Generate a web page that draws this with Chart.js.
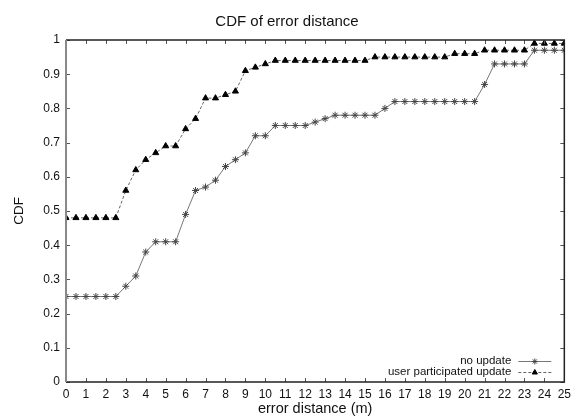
<!DOCTYPE html>
<html>
<head>
<meta charset="utf-8">
<script src="https://cdn.jsdelivr.net/npm/chart.js@4.4.1/dist/chart.umd.min.js"></script>
<style>
  html, body { margin: 0; padding: 0; background: #fff; }
  #wrap { width: 576px; height: 417px; }
</style>
</head>
<body>
<div id="wrap"><canvas id="c" width="576" height="417"></canvas></div>
<script>
const distances = [0,0.5,1,1.5,2,2.5,3,3.5,4,4.5,5,5.5,6,6.5,7,7.5,8,8.5,9,9.5,10,10.5,11,11.5,12,12.5,13,13.5,14,14.5,15,15.5,16,16.5,17,17.5,18,18.5,19,19.5,20,20.5,21,21.5,22,22.5,23,23.5,24,24.5,25];
const noUpdate = [0.25,0.25,0.25,0.25,0.25,0.25,0.28,0.31,0.38,0.41,0.41,0.41,0.49,0.56,0.57,0.59,0.63,0.65,0.67,0.72,0.72,0.75,0.75,0.75,0.75,0.76,0.77,0.78,0.78,0.78,0.78,0.78,0.80,0.82,0.82,0.82,0.82,0.82,0.82,0.82,0.82,0.82,0.87,0.93,0.93,0.93,0.93,0.97,0.97,0.97,0.97];
const userUpdate = [0.48,0.48,0.48,0.48,0.48,0.48,0.56,0.62,0.65,0.67,0.69,0.69,0.74,0.77,0.83,0.83,0.84,0.85,0.91,0.92,0.93,0.94,0.94,0.94,0.94,0.94,0.94,0.94,0.94,0.94,0.94,0.95,0.95,0.95,0.95,0.95,0.95,0.95,0.95,0.96,0.96,0.96,0.97,0.97,0.97,0.97,0.97,0.99,0.99,0.99,0.99];
const seriesNames = ["no update", "user participated update"];
const xTicks = [0,1,2,3,4,5,6,7,8,9,10,11,12,13,14,15,16,17,18,19,20,21,22,23,24,25];
const yTicks = [0,0.1,0.2,0.3,0.4,0.5,0.6,0.7,0.8,0.9,1];

const FONT = "'Liberation Sans', Arial, sans-serif";

const frame = {
  id: 'frame',
  afterDatasetsDraw(chart) {
    const {ctx, chartArea: a, scales: {x, y}} = chart;
    ctx.save();
    ctx.strokeStyle = '#555';
    ctx.lineWidth = 1;
    const T = 4;
    ctx.beginPath();
    xTicks.forEach(v => {
      const px = Math.round(x.getPixelForValue(v)) + 0.5;
      ctx.moveTo(px, a.bottom); ctx.lineTo(px, a.bottom - T);
      ctx.moveTo(px, a.top); ctx.lineTo(px, a.top + T);
    });
    yTicks.forEach(v => {
      const py = Math.round(y.getPixelForValue(v)) + 0.5;
      ctx.moveTo(a.left, py); ctx.lineTo(a.left + T, py);
      ctx.moveTo(a.right, py); ctx.lineTo(a.right - T, py);
    });
    ctx.stroke();
    ctx.lineWidth = 1.5;
    ctx.strokeStyle = '#222';
    ctx.beginPath();
    ctx.moveTo(a.left, a.top); ctx.lineTo(a.right, a.top);
    ctx.lineTo(a.right, a.bottom); ctx.lineTo(a.left, a.bottom);
    ctx.stroke();
    ctx.lineWidth = 2;
    ctx.strokeStyle = '#888';
    ctx.beginPath();
    ctx.moveTo(a.left, a.top); ctx.lineTo(a.left, a.bottom);
    ctx.stroke();

    // legend (inside plot, bottom right)
    ctx.font = '11.5px ' + FONT;
    ctx.textAlign = 'right';
    ctx.textBaseline = 'middle';
    const textRight = a.right - 53;
    const rows = [a.bottom - 21, a.bottom - 10];
    const lx0 = a.right - 46, lx1 = a.right - 13, lxm = (lx0 + lx1) / 2;
    chart.data.datasets.forEach((ds, i) => {
      const yy = rows[i];
      ctx.fillStyle = '#111';
      ctx.fillText(ds.label, textRight, yy);
      ctx.save();
      ctx.strokeStyle = ds.borderColor;
      ctx.lineWidth = 1;
      ctx.setLineDash(ds.borderDash || []);
      ctx.beginPath(); ctx.moveTo(lx0, yy + 0.5); ctx.lineTo(lx1, yy + 0.5); ctx.stroke();
      ctx.restore();
      ctx.save();
      ctx.fillStyle = ds.pointBackgroundColor;
      ctx.strokeStyle = ds.pointBorderColor;
      ctx.lineWidth = 1;
      Chart.helpers.drawPoint(ctx, {
        pointStyle: ds.pointStyle, radius: 3, borderWidth: 1
      }, lxm, yy + 0.5);
      ctx.restore();
    });
    ctx.restore();
  }
};

new Chart(document.getElementById('c'), {
  type: 'line',
  data: {
    datasets: [
      {
        label: seriesNames[0],
        data: distances.map((d, i) => ({x: d, y: noUpdate[i]})),
        borderColor: '#777',
        borderWidth: 1,
        pointStyle: 'star',
        pointRadius: 3.5,
        pointBorderColor: '#444',
        pointBackgroundColor: '#444',
        pointBorderWidth: 1,
        tension: 0,
        fill: false
      },
      {
        label: seriesNames[1],
        data: distances.map((d, i) => ({x: d, y: userUpdate[i]})),
        borderColor: '#666',
        borderWidth: 1,
        borderDash: [3, 2],
        pointStyle: 'triangle',
        pointRadius: 3.5,
        pointBorderColor: '#000',
        pointBackgroundColor: '#000',
        pointBorderWidth: 1,
        tension: 0,
        fill: false
      }
    ]
  },
  options: {
    responsive: false,
    animation: false,
    devicePixelRatio: 1,
    layout: { padding: { left: 8, right: 10, top: 0, bottom: 0 } },
    plugins: {
      legend: { display: false },
      tooltip: { enabled: false },
      title: {
        display: true,
        text: 'CDF of error distance',
        color: '#111',
        font: { family: FONT, size: 15, weight: 'normal' },
        padding: { top: 13, bottom: 9 }
      }
    },
    scales: {
      x: {
        type: 'linear',
        min: 0, max: 25,
        afterBuildTicks(s) { s.ticks = xTicks.map(v => ({value: v})); },
        afterFit(s) { s.height = 35; },
        grid: { display: false, drawTicks: false },
        border: { display: false },
        ticks: {
          color: '#111', padding: 5, maxRotation: 0, autoSkip: false,
          font: { family: FONT, size: 12 },
          callback: v => String(v)
        },
        title: {
          display: true, text: 'error distance (m)', color: '#111',
          font: { family: FONT, size: 14.5, lineHeight: 1.1 }, padding: { top: 0, bottom: 0 }
        }
      },
      y: {
        type: 'linear',
        min: 0, max: 1,
        afterBuildTicks(s) { s.ticks = yTicks.map(v => ({value: v})); },
        afterFit(s) { s.width = 58; },
        grid: { display: false, drawTicks: false },
        border: { display: false },
        ticks: {
          color: '#111', padding: 6, autoSkip: false,
          font: { family: FONT, size: 12 },
          callback: v => String(Math.round(v * 10) / 10)
        },
        title: {
          display: true, text: 'CDF', color: '#111',
          font: { family: FONT, size: 13.5 }, padding: { top: 3, bottom: 0 }
        }
      }
    }
  },
  plugins: [frame]
});
</script>
</body>
</html>
